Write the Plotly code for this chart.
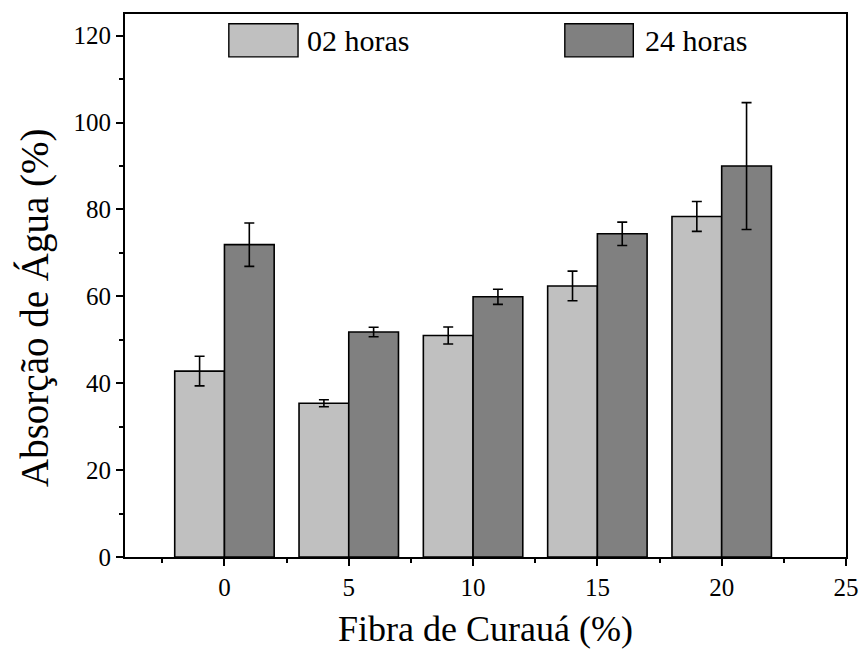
import plotly.graph_objects as go

fibra = [0, 5, 10, 15, 20]
h02 = [42.8, 35.4, 51.0, 62.4, 78.4]
h02_err = [3.4, 0.8, 1.95, 3.4, 3.45]
h24 = [71.9, 51.8, 59.9, 74.4, 90.0]
h24_err = [5.0, 1.1, 1.75, 2.7, 14.6]
series_names = ["02 horas", "24 horas"]
colors = ["#C0C0C0", "#808080"]

FONT = "Liberation Serif, Times New Roman, serif"

fig = go.Figure()
for name, vals, errs, col in [(series_names[0], h02, h02_err, colors[0]),
                              (series_names[1], h24, h24_err, colors[1])]:
    fig.add_trace(go.Bar(
        x=fibra, y=vals, name=name,
        marker=dict(color=col, line=dict(color="black", width=1.6)),
        error_y=dict(type="data", array=errs, visible=True,
                     color="black", thickness=1.6, width=5),
        showlegend=False,
    ))

# legend drawn as boxes + text
leg = [(0.144, 0.240, 0.250), (0.610, 0.705, 0.718)]
for (x0, x1, xt), name, col in zip(leg, series_names, colors):
    fig.add_shape(type="rect", xref="x domain", yref="y domain",
                  x0=x0, x1=x1, y0=0.921, y1=0.982,
                  fillcolor=col, line=dict(color="black", width=1.4))
    fig.add_annotation(xref="x domain", yref="y domain", x=xt, y=0.951,
                       text=name, showarrow=False, xanchor="left", yanchor="middle",
                       font=dict(family=FONT, size=30, color="black"))

# y-axis title (offset below axis centre as in the reference)
fig.add_annotation(xref="paper", yref="paper", x=-0.1248, y=0.4586,
                   text="Absorção de Água (%)", textangle=-90, showarrow=False,
                   xanchor="center", yanchor="middle",
                   font=dict(family=FONT, size=39, color="black"))

fig.update_layout(
    barmode="group", bargap=0.2, bargroupgap=0,
    width=862, height=652,
    margin=dict(l=125, r=16, t=14, b=95, autoexpand=False),
    paper_bgcolor="white", plot_bgcolor="white",
    font=dict(family=FONT, color="black"),
)
fig.update_xaxes(
    range=[-4, 25], tickmode="array", tickvals=[0, 5, 10, 15, 20, 25],
    ticks="outside", ticklen=7, tickwidth=1.5, tickcolor="black",
    minor=dict(tickvals=[-2.5, 2.5, 7.5, 12.5, 17.5, 22.5], ticks="outside",
               ticklen=4, tickwidth=1.5, tickcolor="black"),
    showline=True, linecolor="black", linewidth=1.8, mirror=True,
    showgrid=False, zeroline=False, automargin=False,
    tickfont=dict(family=FONT, size=25, color="black"),
    title=dict(text="Fibra de Curauá (%)", font=dict(family=FONT, size=36, color="black"), standoff=16),
)
fig.update_yaxes(
    range=[0, 125], tickmode="array", tickvals=[0, 20, 40, 60, 80, 100, 120],
    ticks="outside", ticklen=7, tickwidth=1.5, tickcolor="black",
    minor=dict(tickvals=[10, 30, 50, 70, 90, 110], ticks="outside",
               ticklen=4, tickwidth=1.5, tickcolor="black"),
    showline=True, linecolor="black", linewidth=1.8, mirror=True,
    showgrid=False, zeroline=False, automargin=False,
    tickfont=dict(family=FONT, size=25, color="black"),
)

fig.write_html("out.html")
